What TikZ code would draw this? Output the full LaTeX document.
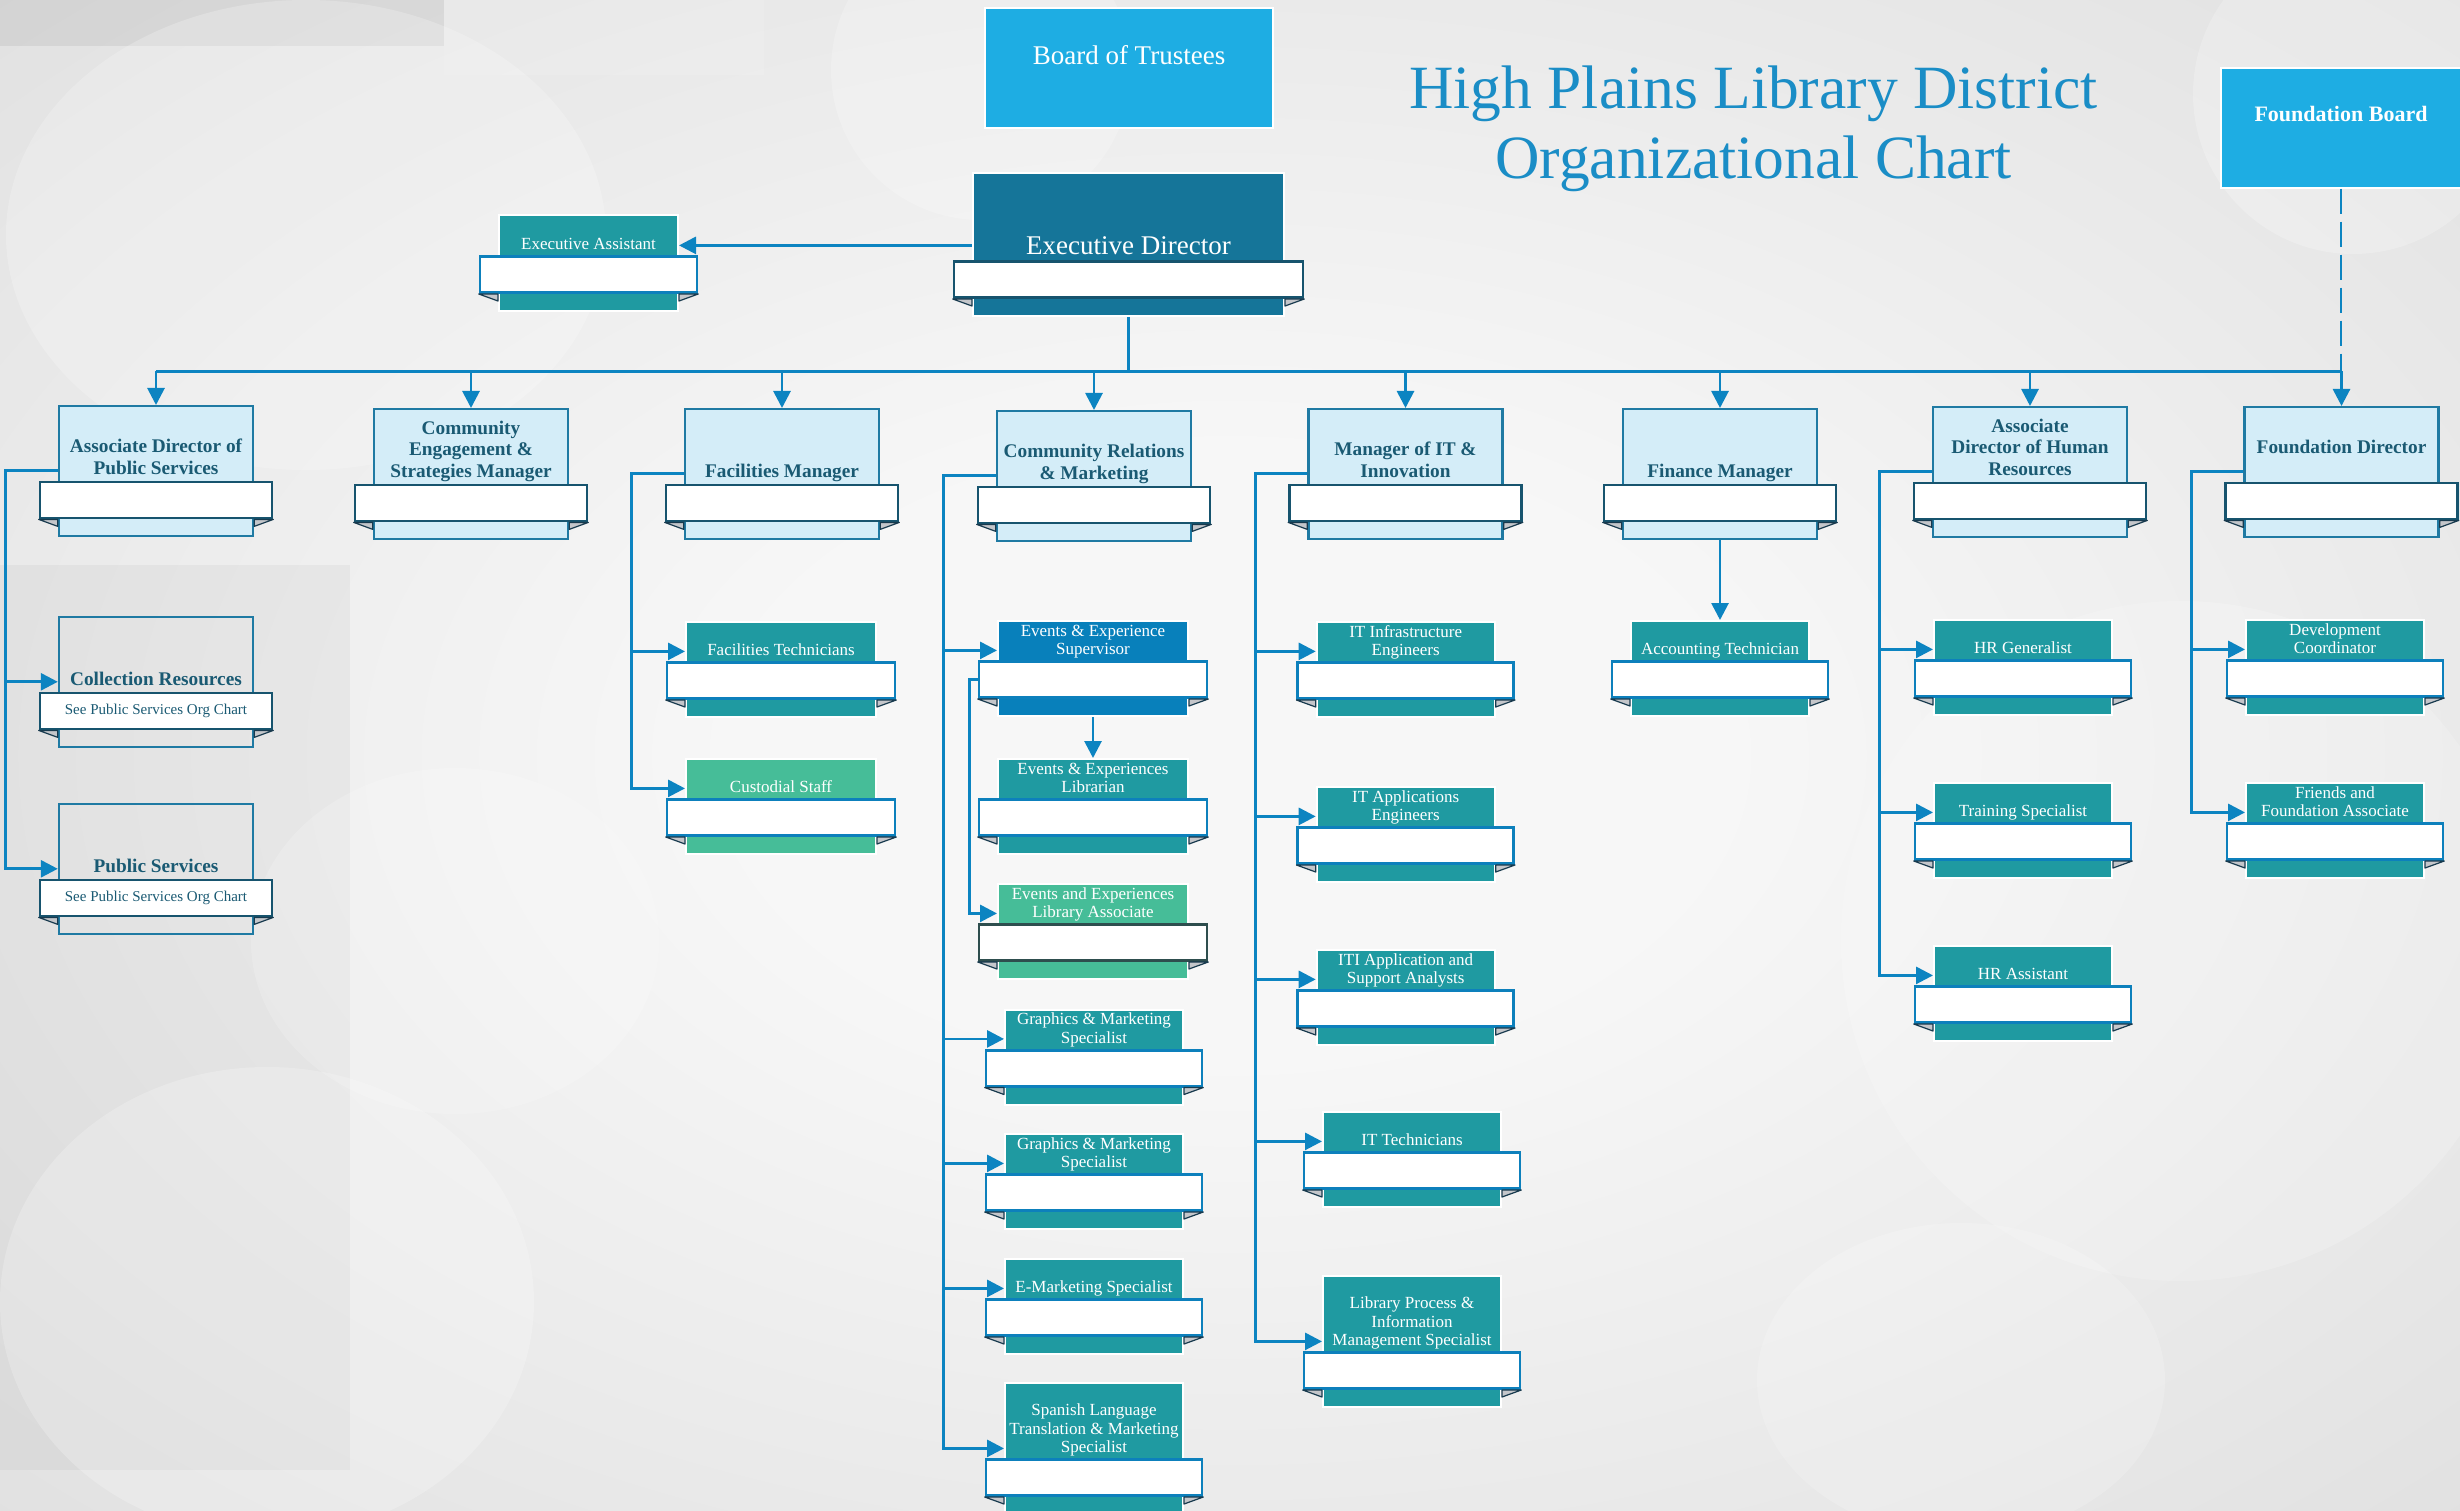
\documentclass[tikz,border=0pt]{standalone}
\usepackage{fontspec}
\setmainfont{Liberation Serif}
\usetikzlibrary{positioning,arrows.meta}

\definecolor{bgin}{RGB}{247,247,247}
\definecolor{bgout}{RGB}{206,206,206}
\definecolor{linkblue}{RGB}{12,132,193}
\definecolor{titleblue}{RGB}{26,141,198}
\definecolor{skyblue}{RGB}{30,173,227}
\definecolor{execblue}{RGB}{21,117,153}
\definecolor{headfill}{RGB}{212,237,248}
\definecolor{headline}{RGB}{31,122,163}
\definecolor{headink}{RGB}{26,90,115}
\definecolor{ribbondark}{RGB}{23,84,110}
\definecolor{ribbonblue}{RGB}{13,128,188}
\definecolor{ribbonslate}{RGB}{46,78,78}
\definecolor{staffteal}{RGB}{31,154,161}
\definecolor{staffgreen}{RGB}{70,189,152}
\definecolor{staffblue}{RGB}{8,128,187}
\definecolor{foldgrey}{RGB}{196,198,202}
\definecolor{folddark}{RGB}{24,58,78}

\pgfdeclareradialshading{backdrop}{\pgfpoint{0bp}{0bp}}{color(0bp)=(bgin); color(10bp)=(bgin); color(58bp)=(bgout); color(72bp)=(bgout)}

\begin{document}
\begin{tikzpicture}[x=1pt, y=-1pt,
link/.style={draw=linkblue, line width=2.8pt},
arr/.style={link, -{Triangle[length=17pt,width=17pt]}},
card/.style={rectangle, anchor=north, inner sep=0pt},
hd/.style={card, fill=headfill, draw=headline, line width=2.4pt},
cl/.style={card, draw=headline, line width=2.4pt},
ex/.style={card, fill=execblue, draw=white, line width=2pt},
tl/.style={card, fill=staffteal, draw=white, line width=2pt},
gr/.style={card, fill=staffgreen, draw=white, line width=2pt},
gd/.style={gr},
bl/.style={card, fill=staffblue, draw=white, line width=2pt},
ribbon/.style={rectangle, fill=white, line width=2.6pt, minimum height=36pt, inner sep=0pt},
hdR/.style={ribbon, draw=ribbondark}, clR/.style={hdR}, exR/.style={hdR},
tlR/.style={ribbon, draw=ribbonblue}, grR/.style={tlR}, blR/.style={tlR},
gdR/.style={ribbon, draw=ribbonslate},
headtext/.style={font=\bfseries\fontsize{19.3}{21.5}\selectfont, text=headink, align=center, inner sep=0pt},
hdT/.style={headtext}, clT/.style={headtext},
stafftext/.style={font=\fontsize{17}{18.6}\selectfont, text=white, align=center, inner sep=0pt},
tlT/.style={stafftext}, grT/.style={stafftext}, gdT/.style={stafftext}, blT/.style={stafftext},
exT/.style={stafftext, font=\fontsize{27}{30}\selectfont, yshift=-3pt},
fold/.style={fill=foldgrey, draw=folddark, line width=1.2pt, line join=round},
topbox/.style={rectangle, fill=skyblue, draw=white, line width=2pt, text=white, inner sep=0pt},
title/.style={font=\fontsize{61.5}{70}\selectfont, text=titleblue, align=center, inner sep=0pt, anchor=south},
sub/.style={font=\fontsize{15}{17}\selectfont, text=headink, inner sep=0pt}]
\useasboundingbox (0,0) rectangle (2460,1511);
\clip (0,0) rectangle (2460,1511);

% backdrop
\shade[shading=backdrop] (0,0) rectangle (2460,1511);
\fill[black, opacity=.06] (0,0) rectangle (444,46);
\fill[white, opacity=.12] (444,0) rectangle (764,75);
\fill[black, opacity=.035] (0,565) rectangle (350,1470);
\fill[white, opacity=.22] (306,235) ellipse (300 and 235);
\fill[white, opacity=.22] (981,70) circle (150);
\fill[white, opacity=.18] (2181,941) circle (340);
\fill[white, opacity=.22] (2353,94) circle (160);
\fill[white, opacity=.22] (267,1302) ellipse (267 and 235);
\fill[white, opacity=.18] (455,941) ellipse (204 and 173);
\fill[white, opacity=.18] (1961,1380) ellipse (204 and 157);

% top boxes and heading
\node[topbox, minimum width=288pt, minimum height=120pt, text depth=26pt, font=\fontsize{27}{30}\selectfont] (bot) at (1129,67.7) {Board of Trustees};
\node[topbox, minimum width=240pt, minimum height=120pt, text depth=28pt, font=\bfseries\fontsize{22}{24}\selectfont] (fb) at (2341,127.7) {Foundation Board};
\node[title] (ttl) at (1753.5,199.6) {High Plains Library District\\Organizational Chart\strut};

% cards: name/style/x/top/width/height/text
\foreach \n/\s/\x/\y/\w/\h/\txt in {
  ed/ex/1128.5/172/311/143/{Executive Director},
  ea/tl/588.5/214/179/96/{Executive Assistant},
  adps/hd/156/405/194/130/{Associate Director of\\Public Services},
  ce/hd/471/408/194/130/{Community\\Engagement \&\\Strategies Manager},
  fm/hd/782/408/194/130/{Facilities Manager},
  crm/hd/1094/410/194/130/{Community Relations\\\& Marketing},
  mit/hd/1405.5/408/194/130/{Manager of IT \&\\Innovation},
  fin/hd/1720/408/194/130/{Finance Manager},
  hr/hd/2030/406/194/130/{Associate\\Director of Human\\Resources},
  fd/hd/2341.5/406/194/130/{Foundation Director\\},
  cr/cl/156/616/194/130/{Collection Resources},
  ps/cl/156/803/194/130/{Public Services},
  ft/tl/781/621/190/95/{Facilities Technicians},
  cs/gr/781/758/190/95/{Custodial Staff},
  evs/bl/1093/620/190/95/{Events \& Experience\\Supervisor},
  evl/tl/1093/758/190/95/{Events \& Experiences\\Librarian},
  ela/gd/1093/883/190/95/{Events and Experiences\\Library Associate},
  gm1/tl/1094/1008.5/178/95/{Graphics \& Marketing\\Specialist},
  gm2/tl/1094/1133/178/95/{Graphics \& Marketing\\Specialist},
  em/tl/1094/1258/178/95/{E-Marketing Specialist},
  sp/tl/1094/1382/178/131/{Spanish Language\\Translation \& Marketing\\Specialist},
  iti/tl/1405.7/621/178/95/{IT Infrastructure\\Engineers},
  ita/tl/1405.7/786/178/95/{IT Applications\\Engineers},
  isa/tl/1405.7/949/178/95/{ITI Application and\\Support Analysts},
  itt/tl/1412/1111/178/95/{IT Technicians},
  lpm/tl/1412/1275/178/131/{Library Process \&\\Information\\Management Specialist},
  act/tl/1720/620/178/95/{Accounting Technician},
  hrg/tl/2023/619/178/95/{HR Generalist},
  tsp/tl/2023/782/178/95/{Training Specialist},
  hra/tl/2023/945/178/95/{HR Assistant},
  dco/tl/2335/619/178/95/{Development\\Coordinator},
  ffa/tl/2335/782/178/95/{Friends and\\Foundation Associate}}{
  \node[\s, minimum width=\w pt, minimum height=\h pt] (\n) at (\x,\y) {};
  \node[\s R, minimum width=\w pt+38pt] (\n R) [above=18pt of \n.south] {};
  \node[\s T] (\n T) [above=0pt of \n R.north] {\txt\strut};
  \filldraw[fold] (\n R.south west) -- (\n R.south west -| \n.west) -- ++(0,7) -- cycle;
  \filldraw[fold] (\n R.south east) -- (\n R.south east -| \n.east) -- ++(0,7) -- cycle;
  \coordinate (\n L) at ([yshift=10pt]\n R.north -| \n.west);
}
\node[sub] (crS) at (crR) {See Public Services Org Chart};
\node[sub] (psS) at (psR) {See Public Services Org Chart};

% connectors
\coordinate (bus) at (0,371.5);
\draw[link] (ed.south) -- (ed.south |- bus);
\draw[link] (adps.north |- bus) -- (fd.north |- bus);
\foreach \p in {adps,ce,fm,crm,mit,fin,hr,fd}
  \draw[arr] (\p.north |- bus) -- (\p.north);
\draw[link, dash pattern=on 25pt off 8pt] (fb.south) -- (fb.south |- bus);
\draw[arr] (ed.west |- eaL) -- (eaL -| ea.east);
\foreach \p/\q in {adps/cr, adps/ps, fm/ft, fm/cs, crm/evs, crm/gm1, crm/gm2, crm/em, crm/sp,
    mit/iti, mit/ita, mit/isa, mit/itt, mit/lpm, hr/hrg, hr/tsp, hr/hra, fd/dco, fd/ffa}
  \draw[arr] (\p L) -- ++(-52,0) |- (\q L);
\draw[arr] (evs.south) -- (evl.north);
\draw[arr] (evsR.west) -- ++(-8,0) |- (elaL);
\draw[arr] (fin.south) -- (act.north);
\end{tikzpicture}
\end{document}
